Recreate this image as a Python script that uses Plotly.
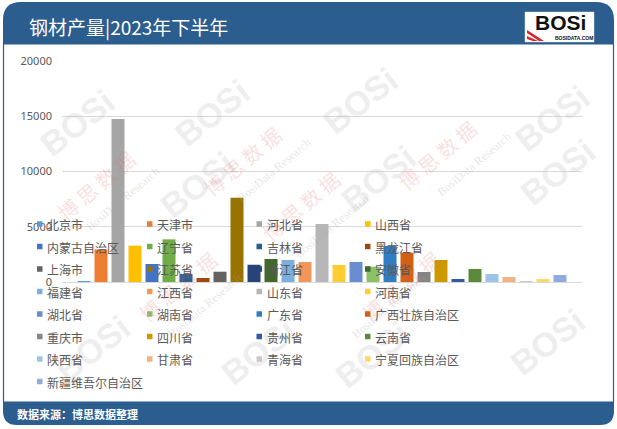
import plotly.graph_objects as go

provinces = ["北京市", "天津市", "河北省", "山西省", "内蒙古自治区", "辽宁省", "吉林省", "黑龙江省",
             "上海市", "江苏省", "浙江省", "安徽省", "福建省", "江西省", "山东省", "河南省",
             "湖北省", "湖南省", "广东省", "广西壮族自治区", "重庆市", "四川省", "贵州省", "云南省",
             "陕西省", "甘肃省", "青海省", "宁夏回族自治区", "新疆维吾尔自治区"]
output = [40, 2950, 14750, 3290, 1630, 3860, 720, 360,
          930, 7630, 1560, 2080, 1990, 1810, 5250, 1540,
          1810, 1390, 3260, 2650, 905, 1990, 270, 1180,
          720, 450, 20, 270, 630]
colors = ["#5B9BD5", "#ED7D31", "#A5A5A5", "#FFC000", "#4472C4", "#70AD47", "#255E91", "#9E480E",
          "#636363", "#997300", "#264478", "#43682B", "#7CAFDD", "#F1975A", "#B7B7B7", "#FFCD33",
          "#698ED0", "#8CC168", "#327DC2", "#D26012", "#848484", "#CC9A00", "#335AA0", "#5A8A39",
          "#9DC3E6", "#F4B183", "#C9C9C9", "#FFD966", "#8FAADC"]
y_ticks = [0, 5000, 10000, 15000, 20000]

title_text = "钢材产量|2023年下半年"
source_text = "数据来源：博思数据整理"

W, H = 617, 429
L, R, T, B = 62, 582, 61, 282
FONT = "Noto Sans CJK SC, Noto Sans, sans-serif"
BLUE = "#2C5D8F"


def X(px):
    return (px - L) / (R - L)


def Y(py):
    return (B - py) / (B - T)


fig = go.Figure()
for name, val, col in zip(provinces, output, colors):
    fig.add_trace(go.Bar(x=[name], y=[val], name=name, marker=dict(color=col, line=dict(width=0)),
                         width=0.765, showlegend=False))

n = len(provinces)
pad = ((R - L) / 17 - n) / 2

shapes = []
annotations = []

# watermarks (drawn first so they sit beneath the other annotations)
logo_marks = [(30, 80), (165, 70), (360, 58), (150, 228), (378, 222), (605, 215), (45, 392), (258, 395),
              (372, 398), (595, 385), (600, 75)]
for (px, py) in logo_marks:
    annotations.append(dict(text="<b>BOSi</b>", xref="paper", yref="paper", x=X(px), y=Y(py),
                            showarrow=False, textangle=-38,
                            font=dict(family="Liberation Sans, sans-serif", size=34,
                                      color="rgba(190,190,190,0.26)")))
red_marks = [(242, 118), (485, 112), (48, 185), (130, 330), (400, 330), (300, 250)]
for (px, py) in red_marks:
    annotations.append(dict(text="博 思 数 据", xref="paper", yref="paper", x=X(px), y=Y(py),
                            showarrow=False, textangle=-40,
                            font=dict(family=FONT, size=20, color="rgba(225,110,110,0.22)")))
    annotations.append(dict(text="BosiData Research", xref="paper", yref="paper", x=X(px + 32), y=Y(py + 14),
                            showarrow=False, textangle=-40,
                            font=dict(family="Liberation Serif, serif", size=12,
                                      color="rgba(170,170,170,0.30)")))

# header
shapes.append(dict(type="path", xref="paper", yref="paper",
                   path=(f"M{X(3)},{Y(44)} L{X(3)},{Y(20)} Q{X(3)},{Y(2)} {X(21)},{Y(2)} "
                         f"L{X(596)},{Y(2)} Q{X(614)},{Y(2)} {X(614)},{Y(20)} L{X(614)},{Y(44)} Z"),
                   fillcolor=BLUE, line=dict(width=0), layer="below"))
# body border
shapes.append(dict(type="rect", xref="paper", yref="paper", x0=X(3.5), x1=X(613.5), y0=Y(44), y1=Y(402),
                   line=dict(color=BLUE, width=1.2), fillcolor="rgba(0,0,0,0)", layer="below"))
# footer
shapes.append(dict(type="path", xref="paper", yref="paper",
                   path=(f"M{X(3)},{Y(402)} L{X(614)},{Y(402)} L{X(614)},{Y(411)} Q{X(614)},{Y(425)} {X(600)},{Y(425)} "
                         f"L{X(17)},{Y(425)} Q{X(3)},{Y(425)} {X(3)},{Y(411)} Z"),
                   fillcolor=BLUE, line=dict(width=0), layer="below"))
# logo box
shapes.append(dict(type="rect", xref="paper", yref="paper", x0=X(525), x1=X(594), y0=Y(12), y1=Y(42),
                   fillcolor="white", line=dict(color="#dddddd", width=0.5), layer="above"))
for off in (0, 6):
    shapes.append(dict(type="path", xref="paper", yref="paper",
                       path=(f"M{X(527)},{Y(30 + off)} L{X(527)},{Y(33 + off)} L{X(539 - off)},{Y(41)} "
                             f"L{X(544 - off)},{Y(41)} Z"),
                       fillcolor="#D9262B", line=dict(width=0), layer="above"))

annotations.append(dict(text=title_text, xref="paper", yref="paper", x=X(27), y=Y(27), xanchor="left",
                        yanchor="middle", showarrow=False, font=dict(family=FONT, size=19, color="white")))
annotations.append(dict(text="<b>BOSi</b>", xref="paper", yref="paper", x=X(560), y=Y(22.5), xanchor="center",
                        yanchor="middle", showarrow=False,
                        font=dict(family="Liberation Sans, Arial, sans-serif", size=21, color="#111111")))
annotations.append(dict(text="<b>BOSIDATA.COM</b>", xref="paper", yref="paper", x=X(574), y=Y(38),
                        xanchor="center", yanchor="middle", showarrow=False,
                        font=dict(family="Liberation Sans, Arial, sans-serif", size=5, color="#111111")))
annotations.append(dict(text=f"<b>{source_text}</b>", xref="paper", yref="paper", x=X(15), y=Y(413.5),
                        xanchor="left", yanchor="middle", showarrow=False,
                        font=dict(family=FONT, size=11, color="white")))

# legend (4 columns)
col_x = [37, 147, 256.5, 365]
for i, (name, col) in enumerate(zip(provinces, colors)):
    r, c = divmod(i, 4)
    cy = 224 + 22.5 * r
    mx = col_x[c]
    shapes.append(dict(type="rect", xref="paper", yref="paper", x0=X(mx), x1=X(mx + 5.5),
                       y0=Y(cy + 2.75), y1=Y(cy - 2.75), fillcolor=col, line=dict(width=0), layer="above"))
    annotations.append(dict(text=name, xref="paper", yref="paper", x=X(mx + 8), y=Y(cy + 0.5),
                            xanchor="left", yanchor="middle", showarrow=False,
                            font=dict(family=FONT, size=12, color="#595959")))

fig.update_layout(
    width=W, height=H,
    margin=dict(l=L, r=W - R, t=T, b=H - B, pad=0),
    paper_bgcolor="white", plot_bgcolor="white",
    barmode="overlay",
    showlegend=False,
    shapes=shapes,
    annotations=annotations,
    xaxis=dict(type="category", range=[-0.5 - pad, n - 0.5 + pad], showticklabels=False,
               showgrid=False, zeroline=False, showline=False, ticks="", fixedrange=True),
    yaxis=dict(range=[0, 20000], tickvals=y_ticks, ticktext=[str(v) for v in y_ticks],
               showgrid=True, gridcolor="#D9D9D9", gridwidth=1, zeroline=True, zerolinecolor="#D9D9D9",
               zerolinewidth=1, showline=False, ticks="", ticklabelstandoff=9,
               tickfont=dict(family="Noto Sans, sans-serif", size=11, color="#595959"), fixedrange=True),
)

fig.write_html("out.html", config={"displayModeBar": False},
               post_script="document.body.style.margin='0px';document.body.style.overflow='hidden';")
